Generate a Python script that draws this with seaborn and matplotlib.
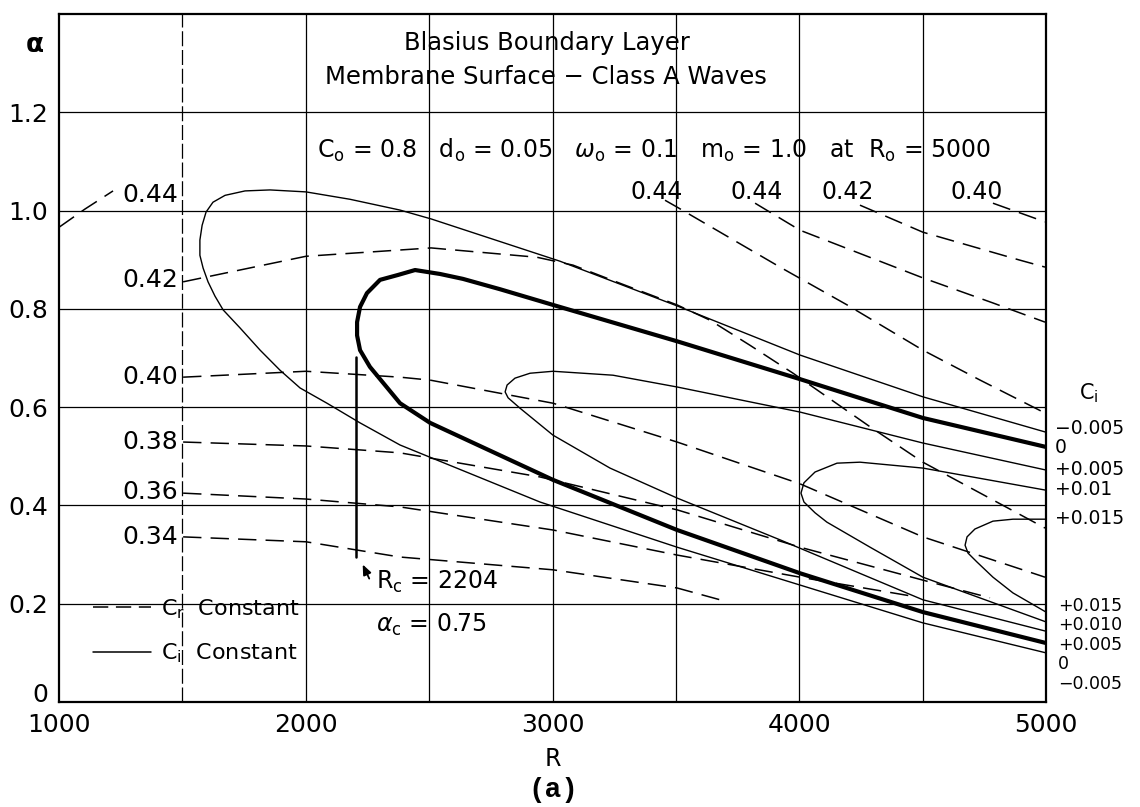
import matplotlib
matplotlib.use("Agg")
import matplotlib.pyplot as plt
from matplotlib.lines import Line2D
from matplotlib.transforms import ScaledTranslation
import seaborn as sns

sns.set_style("white")
plt.rcParams["font.family"] = ["DejaVu Sans"]
plt.rcParams["mathtext.fontset"] = "dejavusans"
plt.rcParams["text.color"] = "k"
plt.rcParams["axes.labelcolor"] = "k"
plt.rcParams["xtick.color"] = "k"
plt.rcParams["ytick.color"] = "k"

# ---------------- data: Ci = constant curves (R, alpha) ----------------
ci_m005_R = [5000, 4501, 4003, 3505, 3030, 2508, 2382, 2179, 2001, 1855, 1754, 1673, 1624, 1596,
             1580, 1571, 1571, 1584, 1604, 1632, 1665, 1734, 1815, 1896, 1977, 2086, 2220, 2382,
             2504, 2949, 3505, 4003, 4501, 5000]
ci_m005_a = [0.549, 0.621, 0.706, 0.806, 0.897, 0.983, 1.001, 1.023, 1.038, 1.042, 1.040, 1.031,
             1.017, 0.997, 0.970, 0.940, 0.909, 0.883, 0.855, 0.826, 0.798, 0.761, 0.716, 0.675,
             0.639, 0.608, 0.568, 0.523, 0.498, 0.407, 0.315, 0.238, 0.161, 0.100]

ci_0_R = [5000, 4501, 4003, 3505, 3002, 2787, 2637, 2544, 2443, 2374, 2301, 2248, 2220, 2208,
          2208, 2220, 2260, 2321, 2382, 2504, 3002, 3505, 4003, 4501, 5000]
ci_0_a = [0.519, 0.578, 0.657, 0.734, 0.808, 0.840, 0.861, 0.871, 0.879, 0.869, 0.859, 0.832,
          0.804, 0.773, 0.746, 0.716, 0.682, 0.645, 0.608, 0.568, 0.452, 0.350, 0.262, 0.183, 0.120]

ci_p005_R = [5000, 4501, 4003, 3505, 3245, 3002, 2909, 2848, 2816, 2808, 2820, 2868, 3002, 3233,
             3505, 3922, 4501, 5000]
ci_p005_a = [0.472, 0.527, 0.590, 0.641, 0.665, 0.673, 0.669, 0.659, 0.645, 0.631, 0.619, 0.598,
             0.543, 0.476, 0.415, 0.330, 0.208, 0.144]

ci_p010_R = [5000, 4501, 4246, 4153, 4064, 4019, 4007, 4019, 4064, 4112, 4287, 4501, 5000]
ci_p010_a = [0.431, 0.476, 0.488, 0.486, 0.468, 0.446, 0.425, 0.407, 0.385, 0.366, 0.315, 0.254, 0.163]

ci_p015_R = [5000, 4866, 4785, 4712, 4680, 4672, 4684, 4720, 4785, 4866, 5000]
ci_p015_a = [0.372, 0.372, 0.368, 0.352, 0.336, 0.319, 0.303, 0.285, 0.254, 0.222, 0.183]

# ---------------- data: Cr = constant curves (R, alpha) ----------------
cr_044a_R = [1000, 1105, 1219]
cr_044a_a = [0.966, 1.003, 1.040]

cr_042a_R = [1503, 2001, 2508, 2937, 3083, 3274, 3505, 3638, 3800, 3975, 4287, 4501, 4996]
cr_042a_a = [0.855, 0.907, 0.924, 0.905, 0.889, 0.852, 0.808, 0.777, 0.726, 0.669, 0.560, 0.488, 0.354]

cr_040a_R = [1503, 2001, 2382, 2504, 3002, 3505, 4003, 4501, 4996]
cr_040a_a = [0.661, 0.673, 0.661, 0.655, 0.608, 0.529, 0.444, 0.336, 0.254]

cr_038_R = [1503, 2001, 2382, 2949, 3505, 4003, 4501, 4773]
cr_038_a = [0.529, 0.521, 0.507, 0.458, 0.391, 0.315, 0.248, 0.212]

cr_036_R = [1503, 2001, 2382, 3002, 3505, 4003, 4450]
cr_036_a = [0.425, 0.413, 0.397, 0.350, 0.299, 0.254, 0.216]

cr_034_R = [1503, 2001, 2382, 3002, 3505, 3679]
cr_034_a = [0.336, 0.326, 0.295, 0.269, 0.232, 0.208]

cr_044b_R = [3456, 3505, 3922, 4194, 4501, 4733, 4996]
cr_044b_a = [1.021, 1.007, 0.885, 0.808, 0.716, 0.655, 0.588]

cr_044c_R = [3821, 4003, 4501, 4785, 4996]
cr_044c_a = [1.015, 0.960, 0.863, 0.812, 0.773]

cr_042b_R = [4246, 4501, 4895, 4996]
cr_042b_a = [1.011, 0.956, 0.899, 0.885]

cr_040b_R = [4785, 4996]
cr_040b_a = [1.015, 0.977]

# critical point marker line
rc_R = [2204, 2204]
rc_a = [0.295, 0.702]

# labels
left_cr_labels = ["0.44", "0.42", "0.40", "0.38", "0.36", "0.34"]
left_cr_alpha = [1.032, 0.859, 0.661, 0.529, 0.427, 0.336]
top_cr_labels = ["0.44", "0.44", "0.42", "0.40"]
top_cr_R = [3424, 3829, 4198, 4721]
right_ci_upper = ["\u22120.005", "0", "+0.005", "+0.01", "+0.015"]
right_ci_upper_a = [0.556, 0.517, 0.474, 0.433, 0.374]
right_ci_lower = ["+0.015", "+0.010", "+0.005", "0", "\u22120.005"]
right_ci_lower_a = [0.195, 0.156, 0.116, 0.077, 0.037]

x_ticks = [1000, 2000, 3000, 4000, 5000]
x_tick_labels = ["1000", "2000", "3000", "4000", "5000"]
y_ticks = [0, 0.2, 0.4, 0.6, 0.8, 1.0, 1.2]
y_tick_labels = ["0", "0.2", "0.4", "0.6", "0.8", "1.0", "1.2"]
grid_R = [2000, 2500, 3000, 3500, 4000, 4500]
grid_R_dashed = [1500]
grid_a = [0.2, 0.4, 0.6, 0.8, 1.0, 1.2]

# ---------------- figure ----------------
W, H = 1140, 807
fig = plt.figure(figsize=(W / 100, H / 100), dpi=100)
ax = fig.add_axes([59 / W, 1 - 702 / H, 987 / W, 688 / H])
ax.set_xlim(1000, 5000)
ax.set_ylim(0, 1.4)

for g in grid_R:
    ax.axvline(g, color="k", lw=0.9, zorder=1)
for g in grid_R_dashed:
    ax.axvline(g, color="k", lw=0.9, zorder=1, ls=(0, (12, 3)))
for g in grid_a:
    ax.axhline(g, color="k", lw=0.9, zorder=1)

DASH = (0, (12, 6))
thin_ci = [(ci_m005_R, ci_m005_a), (ci_p005_R, ci_p005_a), (ci_p010_R, ci_p010_a), (ci_p015_R, ci_p015_a)]
for R, a in thin_ci:
    sns.lineplot(x=R, y=a, sort=False, estimator=None, color="k", lw=1.0, ax=ax, zorder=3)
sns.lineplot(x=ci_0_R, y=ci_0_a, sort=False, estimator=None, color="k", lw=3.0, ax=ax, zorder=4)

cr_curves = [(cr_044a_R, cr_044a_a), (cr_042a_R, cr_042a_a), (cr_040a_R, cr_040a_a),
             (cr_038_R, cr_038_a), (cr_036_R, cr_036_a), (cr_034_R, cr_034_a),
             (cr_044b_R, cr_044b_a), (cr_044c_R, cr_044c_a), (cr_042b_R, cr_042b_a),
             (cr_040b_R, cr_040b_a)]
for R, a in cr_curves:
    sns.lineplot(x=R, y=a, sort=False, estimator=None, color="k", lw=1.1, ls=DASH, ax=ax, zorder=3)

sns.lineplot(x=rc_R, y=rc_a, sort=False, estimator=None, color="k", lw=1.8, ax=ax, zorder=4)
ax.annotate("", xy=(2226, 0.285), xytext=(2262, 0.246),
            arrowprops=dict(arrowstyle="-|>,head_length=0.6,head_width=0.25", color="k", lw=1.3))

# spines / ticks
for s in ax.spines.values():
    s.set_color("k")
    s.set_linewidth(1.6)
ax.set_xticks(x_ticks)
ax.set_xticklabels(x_tick_labels, fontsize=18)
ax.set_yticks(y_ticks)
ax.set_yticklabels(y_tick_labels, fontsize=18)
ax.tick_params(length=0, pad=8)
# lift the "0" label so it sits above the "1000" label as in the original
zero_lab = ax.get_yticklabels()[0]
zero_lab.set_transform(zero_lab.get_transform() + ScaledTranslation(0, 7 / 72, fig.dpi_scale_trans))
ax.set_xlabel("R", fontsize=17, labelpad=7)
ax.set_ylabel("")

fig.text(35 / W, 1 - 45 / H, "\u03b1", fontsize=19, weight="bold", ha="center", va="center")
fig.text(553 / W, 1 - 790 / H, "(a)", fontsize=20, weight="bold", family="Liberation Mono",
         ha="center", va="center")

# titles
ax.text(2978, 1.341, "Blasius Boundary Layer", fontsize=17.5, ha="center", va="center")
ax.text(2974, 1.272, "Membrane Surface \u2212 Class A Waves", fontsize=17.5, ha="center", va="center")
ax.text(3411, 1.123,
        r"C$_\mathrm{o}$ = 0.8   d$_\mathrm{o}$ = 0.05   $\omega_\mathrm{o}$ = 0.1   "
        r"m$_\mathrm{o}$ = 1.0   at  R$_\mathrm{o}$ = 5000",
        fontsize=17, ha="center", va="center")

# curve labels
for lab, a in zip(left_cr_labels, left_cr_alpha):
    ax.text(1482, a, lab, fontsize=18, ha="right", va="center")
for lab, r in zip(top_cr_labels, top_cr_R):
    ax.text(r, 1.038, lab, fontsize=17, ha="center", va="center")
ax.text(5174, 0.628, r"C$_\mathrm{i}$", fontsize=15, ha="center", va="center")
for lab, a in zip(right_ci_upper, right_ci_upper_a):
    ax.text(5037, a, lab, fontsize=13.5, ha="left", va="center")
for lab, a in zip(right_ci_lower, right_ci_lower_a):
    ax.text(5049, a, lab, fontsize=12.5, ha="left", va="center")

ax.text(2285, 0.244, r"R$_\mathrm{c}$ = 2204", fontsize=17, ha="left", va="center")
ax.text(2285, 0.157, r"$\alpha_\mathrm{c}$ = 0.75", fontsize=17, ha="left", va="center")

# legend
handles = [Line2D([], [], color="k", lw=1.1, ls=(0, (10, 5))),
           Line2D([], [], color="k", lw=1.1)]
ax.legend(handles, [r"C$_\mathrm{r}$  Constant", r"C$_\mathrm{i}$  Constant"],
          loc="upper left", bbox_to_anchor=((93 - 59) / 987, (702 - 597) / 688),
          frameon=False, fontsize=16, handlelength=2.6, handletextpad=0.45,
          borderpad=0, borderaxespad=0, labelspacing=0.95)

fig.savefig("out.png", dpi=100)
